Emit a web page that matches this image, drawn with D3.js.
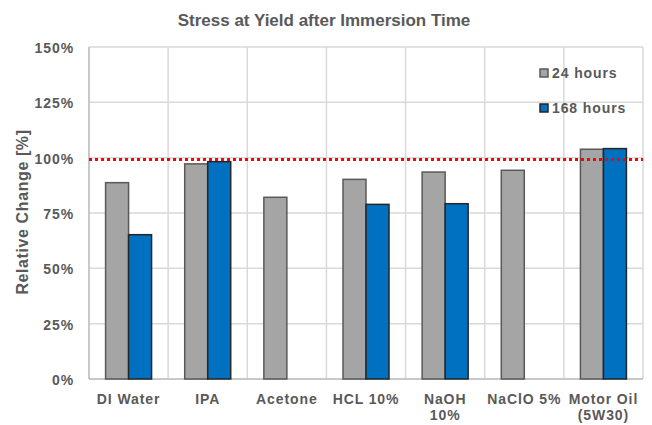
<!DOCTYPE html>
<html>
<head>
<meta charset="utf-8">
<script src="https://cdn.jsdelivr.net/npm/d3@7"></script>
<style>
  body { margin: 0; background: #fff; }
  text { font-family: Arial, "Liberation Sans", sans-serif; font-weight: bold; fill: #595959; }
</style>
</head>
<body>
<svg id="chart" width="652" height="425"></svg>
<script>
// ── Data ─────────────────────────────────────────────────────────────────
const categories = ['DI Water', 'IPA', 'Acetone', 'HCL 10%', 'NaOH\n10%', 'NaClO 5%', 'Motor Oil\n(5W30)'];
const series = ['24 hours', '168 hours'];
const hours24 = [88.7, 97.2, 82.1, 90.2, 93.5, 94.3, 103.8];
const hours168 = [65.2, 98.2, null, 78.9, 79.2, null, 104.1];
const yTicks = [0, 25, 50, 75, 100, 125, 150];
const refLine = 99.2;

const COLORS = {
  '24 hours':  { fill: '#A5A5A5', stroke: '#595959' },
  '168 hours': { fill: '#0070C0', stroke: '#262626' }
};

const MARGIN = { top: 47, right: 9, bottom: 46, left: 89 };
const W = 652, H = 425;
const width = W - MARGIN.left - MARGIN.right;
const height = H - MARGIN.top - MARGIN.bottom;
const LS = '0.9px'; // letter spacing to match the wide label text

const svg = d3.select('#chart');
const g = svg.append('g').attr('transform', `translate(${MARGIN.left},${MARGIN.top})`);

const x = d3.scaleBand().domain(categories).range([0, width]);
const xInner = d3.scaleBand().domain(series).range([x.bandwidth() / 2 - 23, x.bandwidth() / 2 + 23]);
const y = d3.scaleLinear().domain([0, 150]).range([height, 0]);

// Grid — horizontal
g.append('g')
  .selectAll('line')
  .data(yTicks)
  .join('line')
  .attr('x1', 0).attr('x2', width)
  .attr('y1', d => y(d)).attr('y2', d => y(d))
  .attr('stroke', '#D9D9D9').attr('stroke-width', 1.5);

// Grid — vertical (category boundaries)
g.append('g')
  .selectAll('line')
  .data(d3.range(categories.length + 1))
  .join('line')
  .attr('x1', i => i * x.step()).attr('x2', i => i * x.step())
  .attr('y1', 0).attr('y2', height)
  .attr('stroke', '#D9D9D9').attr('stroke-width', 1.5);

// Axis lines
g.append('line').attr('x1', 0).attr('x2', 0).attr('y1', 0).attr('y2', height)
  .attr('stroke', '#BFBFBF').attr('stroke-width', 1.5);
g.append('line').attr('x1', 0).attr('x2', width).attr('y1', height).attr('y2', height)
  .attr('stroke', '#BFBFBF').attr('stroke-width', 1.5);

// Y axis
const yAxis = d3.axisLeft(y).tickValues(yTicks).tickFormat(d => d + '%').tickSize(0).tickPadding(15);
const yAxisG = g.append('g').call(yAxis);
yAxisG.select('.domain').remove();
yAxisG.selectAll('text').attr('font-size', '14px').attr('font-family', 'Arial, "Liberation Sans", sans-serif')
  .attr('font-weight', 'bold').attr('fill', '#595959').attr('letter-spacing', LS).attr('dy', '0.4em');

// X labels (multi-line)
const xLab = g.append('g')
  .selectAll('text')
  .data(categories)
  .join('text')
  .attr('text-anchor', 'middle')
  .attr('font-size', '14px')
  .attr('letter-spacing', LS)
  .attr('transform', d => `translate(${x(d) + x.bandwidth() / 2},${height + 25})`);
xLab.each(function(d) {
  const t = d3.select(this);
  d.split('\n').forEach((line, i) => {
    t.append('tspan').attr('x', 0).attr('y', i * 16).text(line);
  });
});

// Bars
const rows = [];
categories.forEach((c, i) => {
  rows.push({ cat: c, s: '24 hours', v: hours24[i] });
  if (hours168[i] != null) rows.push({ cat: c, s: '168 hours', v: hours168[i] });
});

g.append('g')
  .selectAll('rect')
  .data(rows)
  .join('rect')
  .attr('x', d => x(d.cat) + xInner(d.s))
  .attr('width', xInner.bandwidth())
  .attr('y', d => y(d.v))
  .attr('height', d => y(0) - y(d.v))
  .attr('fill', d => COLORS[d.s].fill)
  .attr('stroke', d => COLORS[d.s].stroke)
  .attr('stroke-width', 1.5);

// Reference line
g.append('line')
  .attr('x1', 0).attr('x2', width)
  .attr('y1', y(refLine)).attr('y2', y(refLine))
  .attr('stroke', '#FF0000').attr('stroke-width', 3)
  .attr('stroke-dasharray', '3,3');

// Title
svg.append('text')
  .attr('x', 324).attr('y', 26)
  .attr('text-anchor', 'middle')
  .attr('font-size', '17px')
  .text('Stress at Yield after Immersion Time');

// Y title
svg.append('text')
  .attr('transform', 'translate(28,212) rotate(-90)')
  .attr('text-anchor', 'middle')
  .attr('font-size', '16px')
  .attr('letter-spacing', '0.6px')
  .text('Relative Change [%]');

// Legend
const legend = svg.append('g').attr('transform', 'translate(540,69)');
series.forEach((s, i) => {
  const row = legend.append('g').attr('transform', `translate(0,${i * 35})`);
  row.append('rect').attr('x', 0).attr('y', 0).attr('width', 8).attr('height', 8)
    .attr('fill', COLORS[s].fill).attr('stroke', COLORS[s].stroke).attr('stroke-width', 1.5);
  row.append('text').attr('x', 12).attr('y', 9).attr('font-size', '14px')
    .attr('letter-spacing', LS).text(s);
});
</script>
</body>
</html>
